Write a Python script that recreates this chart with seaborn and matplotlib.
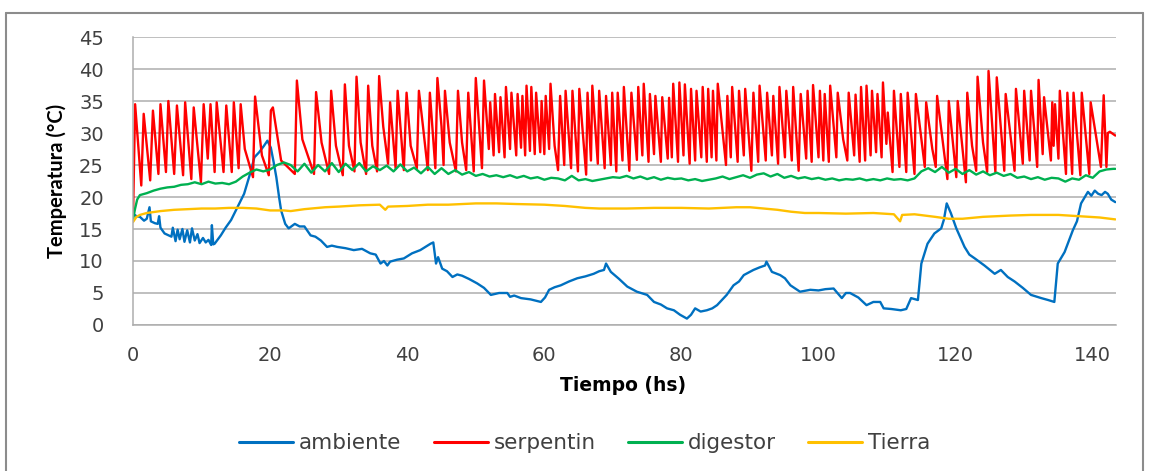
import pandas as pd
import seaborn as sns
import matplotlib.pyplot as plt
from matplotlib.lines import Line2D

# ambiente (blue)
amb_t = [0.0, 0.5, 1.0, 1.6, 2.0, 2.4, 2.6, 3.2, 3.6, 3.8,
         4.0, 4.6, 5.2, 5.6, 5.8, 6.2, 6.5, 6.8, 7.2, 7.5,
         7.9, 8.3, 8.6, 9.0, 9.4, 9.7, 10.2, 10.6, 11.0, 11.4,
         11.5, 11.7, 11.9, 12.8, 13.5, 14.3, 15.0, 16.2, 17.2, 17.7,
         18.4, 19.1, 19.6, 20.1, 20.5, 20.9, 21.3, 21.6, 22.2, 22.7,
         23.6, 24.3, 25.0, 25.9, 26.6, 27.4, 28.3, 29.0, 29.8, 31.0,
         32.2, 33.4, 34.6, 35.4, 36.1, 36.6, 37.1, 37.5, 38.5, 39.5,
         40.7, 41.9, 42.8, 43.4, 43.8, 44.2, 44.5, 45.1, 45.8, 46.6,
         47.3, 48.0, 49.0, 50.2, 51.2, 52.2, 53.4, 54.6, 55.0, 55.6,
         56.6, 58.0, 59.5, 60.1, 60.7, 61.5, 62.4, 63.6, 64.8, 66.0,
         67.2, 68.0, 68.7, 69.0, 69.7, 70.9, 72.1, 73.5, 75.0, 76.0,
         77.0, 77.9, 78.9, 79.8, 80.8, 81.4, 82.0, 82.8, 83.7, 84.5,
         85.2, 86.6, 87.6, 88.4, 89.1, 90.5, 91.4, 92.2, 92.4, 93.2,
         94.4, 95.1, 95.9, 97.3, 98.8, 100.0, 101.0, 102.2, 103.4, 104.0,
         104.6, 105.8, 107.0, 108.0, 109.0, 109.5, 110.6, 112.0, 112.8, 113.5,
         114.5, 115.0, 115.9, 116.9, 117.9, 118.3, 118.7, 119.3, 120.1, 121.3,
         122.0, 122.8, 124.2, 125.7, 126.6, 127.6, 128.6, 129.8, 131.0, 132.5,
         133.5, 134.4, 134.9, 135.9, 137.1, 137.7, 138.3, 139.3, 139.8, 140.3,
         140.8, 141.3, 141.8, 142.2, 142.7, 143.3]
amb_v = [17.4, 17.0, 16.9, 16.3, 16.6, 18.4, 16.2, 15.9, 15.8, 17.0,
         15.2, 14.3, 14.0, 13.8, 15.2, 13.1, 14.9, 13.4, 15.0, 13.0,
         14.8, 12.9, 15.1, 13.2, 14.2, 12.8, 13.6, 12.9, 13.3, 12.5,
         15.6, 12.6, 12.7, 14.0, 15.2, 16.4, 17.9, 20.5, 24.1, 26.2,
         27.0, 28.0, 28.8, 27.7, 25.5, 23.1, 20.0, 17.9, 15.8, 15.1,
         15.8, 15.4, 15.4, 14.0, 13.8, 13.2, 12.2, 12.4, 12.2, 12.0,
         11.7, 11.9, 11.2, 11.0, 9.6, 10.0, 9.3, 9.9, 10.2, 10.4,
         11.2, 11.7, 12.3, 12.7, 12.9, 9.6, 10.6, 8.8, 8.4, 7.5,
         7.9, 7.7, 7.2, 6.5, 5.8, 4.7, 5.0, 5.0, 4.4, 4.6,
         4.2, 4.0, 3.6, 4.3, 5.5, 5.9, 6.2, 6.8, 7.3, 7.6,
         8.0, 8.4, 8.6, 9.6, 8.3, 7.2, 6.0, 5.2, 4.7, 3.6,
         3.2, 2.6, 2.3, 1.6, 1.0, 1.6, 2.6, 2.1, 2.3, 2.6,
         3.1, 4.7, 6.2, 6.8, 7.8, 8.6, 9.0, 9.3, 9.9, 8.3,
         7.8, 7.3, 6.2, 5.2, 5.5, 5.4, 5.6, 5.7, 4.2, 5.0,
         5.0, 4.3, 3.1, 3.6, 3.6, 2.6, 2.5, 2.3, 2.5, 4.2,
         3.9, 9.6, 12.7, 14.3, 15.1, 16.5, 19.0, 17.5, 15.1, 12.2,
         11.0, 10.4, 9.3, 8.0, 8.6, 7.5, 6.8, 5.8, 4.7, 4.2,
         3.9, 3.6, 9.6, 11.4, 14.8, 16.2, 19.0, 20.8, 20.2, 21.0,
         20.5, 20.3, 20.8, 20.5, 19.6, 19.2]

# serpentin (red), peaks and troughs
serp_t = [0.0, 0.3, 1.2, 1.55, 2.5, 2.9, 3.7, 4.0, 4.8, 5.15,
          6.0, 6.4, 7.3, 7.6, 8.5, 8.85, 9.9, 10.3, 10.9, 11.3,
          11.9, 12.2, 13.2, 13.6, 14.4, 14.7, 15.4, 15.7, 16.3, 17.5, 17.8,
          18.8, 19.8, 20.1, 20.4, 21.6, 23.6, 23.9, 24.7, 26.4, 26.7,
          27.5, 28.6, 28.9, 29.6, 30.6, 30.9, 31.5, 32.3, 32.6, 33.2,
          34.0, 34.3, 34.9, 35.6, 35.9,
          36.5, 37.2, 37.5, 38.3, 38.6, 39.5, 39.9, 40.5, 41.4, 41.7,
          42.3, 43.0, 43.3, 44.1, 44.4, 45.0, 45.3, 45.5, 46.2, 47.1,
          47.4, 48.0, 48.6, 48.9, 49.7, 50.0, 50.9, 51.2, 51.9, 52.1,
          52.6, 52.8, 53.4, 53.6, 54.2, 54.4, 55.0, 55.2, 55.9, 56.1,
          56.6, 56.8, 57.2, 57.4, 57.9, 58.1, 58.6, 58.8, 59.4, 59.6,
          60.0, 60.2, 60.7, 60.9, 61.5, 62.0, 62.3, 62.9, 63.1, 63.9,
          64.1, 64.9, 65.1, 66.1, 66.3, 66.8, 67.0, 67.8, 68.0, 68.8,
          69.0, 69.7, 69.9, 70.5, 70.7, 71.4, 71.6,
          72.4, 72.7, 73.5, 73.7, 74.3, 74.5, 75.2, 75.4, 76.0, 76.2,
          77.0, 77.2, 78.0, 78.2, 78.6, 78.8, 79.5, 79.7, 80.3, 80.5,
          81.2, 81.4, 82.0, 82.2, 82.9, 83.1, 83.7, 83.9, 84.4, 84.6,
          85.1, 85.3, 86.5, 86.7, 87.2, 87.4, 88.2, 88.4, 89.1, 89.3,
          90.2, 90.5, 91.2, 91.4, 92.3, 92.5, 93.2, 93.4, 94.1, 94.3,
          95.1, 95.3, 96.1, 96.3, 97.1, 97.4, 98.2, 98.4, 99.0, 99.2,
          100.0, 100.2, 100.7, 100.9, 101.5, 101.7, 102.6, 102.8, 103.6, 104.2,
          104.4, 105.2, 105.4, 106.0, 106.2, 106.8, 107.0, 107.6, 107.8, 108.4,
          108.6,
          109.2, 109.4, 109.9, 110.1, 110.8, 111.0, 111.8, 112.0, 112.8, 113.0,
          114.0, 114.2, 115.5, 115.7, 116.6, 117.1, 117.3, 118.8, 119.0, 120.1,
          120.3, 121.5, 121.7, 122.4, 123.0, 123.2, 124.0, 124.6, 124.8, 125.8,
          126.0, 127.1, 127.3, 128.6, 128.8, 129.8, 130.0, 130.8, 131.0, 131.9,
          132.1, 132.7, 132.9, 133.9, 134.1, 134.3, 134.5, 135.0, 135.2, 136.1,
          136.3, 137.0, 137.2, 138.2, 138.4, 139.5, 139.7, 141.2, 141.6, 142.0,
          142.2, 142.5, 143.3]
serp_v = [17.0, 34.5, 21.8, 33.0, 22.6, 33.5, 23.6, 34.5, 23.9, 35.0,
          23.6, 34.3, 23.4, 34.8, 22.8, 34.0, 22.3, 34.5, 26.0, 34.5,
          23.9, 34.8, 23.9, 34.3, 23.9, 34.8, 24.5, 34.5, 27.5, 23.1, 35.7,
          26.5, 23.4, 33.5, 34.0, 25.7, 23.6, 38.2, 29.0, 23.6, 36.4,
          28.5, 23.6, 36.6, 28.0, 23.4, 37.6, 28.0, 24.0, 38.8, 28.5,
          23.6, 37.4, 28.0, 24.0, 38.9,
          31.0, 25.2, 34.8, 24.5, 36.6, 24.2, 36.3, 28.0, 24.5, 36.6,
          31.0, 24.2, 36.3, 24.5, 38.6, 31.0, 25.0, 36.6, 28.5, 24.0,
          36.6, 28.5, 24.2, 36.3, 24.0, 38.6, 24.5, 38.2, 27.5, 34.8,
          26.5, 36.1, 27.0, 35.6, 26.2, 37.2, 27.5, 36.3, 26.5, 36.1,
          27.7, 35.8, 26.5, 37.4, 27.2, 37.2, 26.7, 36.3, 27.0, 35.0,
          26.7, 35.8, 27.5, 37.7, 28.0, 24.2, 35.8, 25.0, 36.6, 24.5,
          36.6, 24.0, 36.9, 23.5, 36.3, 25.7, 37.4, 25.2, 36.6, 24.5,
          35.8, 25.0, 36.3, 24.0, 36.3, 25.7, 37.2,
          24.1, 36.3, 25.8, 37.2, 26.5, 37.7, 25.5, 36.1, 26.7, 35.8,
          25.5, 35.6, 26.0, 35.5, 26.2, 37.7, 25.5, 37.9, 26.5, 37.6,
          25.2, 36.9, 25.7, 36.6, 26.2, 37.2, 25.5, 36.9, 26.2, 36.6,
          25.7, 37.7, 25.0, 35.8, 26.2, 37.2, 25.5, 36.6, 26.5, 36.9,
          24.1, 36.3, 25.5, 37.4, 25.7, 36.3, 26.5, 35.8, 25.2, 37.2,
          26.2, 36.6, 25.7, 37.2, 24.1, 36.1, 26.0, 36.6, 25.5, 37.5,
          26.2, 36.6, 25.7, 36.1, 25.5, 37.4, 26.2, 36.3, 29.0, 25.7,
          36.3, 26.5, 36.0, 25.5, 37.2, 25.7, 37.4, 26.5, 36.6, 27.0,
          36.1,
          26.2, 37.9, 28.3, 33.2, 23.9, 36.6, 24.7, 36.1, 23.9, 36.3,
          23.6, 36.1, 24.7, 34.8, 27.5, 24.7, 35.8, 22.8, 35.0, 23.1,
          35.0, 22.3, 36.3, 28.0, 24.1, 38.8, 28.5, 23.9, 39.7, 23.9,
          38.7, 24.1, 36.1, 24.1, 36.9, 25.2, 36.6, 25.7, 36.6, 24.7,
          38.3, 26.7, 35.6, 25.7, 34.8, 28.0, 34.5, 26.0, 36.6, 23.6,
          36.3, 23.6, 36.3, 23.4, 36.3, 23.6, 34.8, 24.7, 35.9, 24.7,
          30.0, 30.2, 29.6]

# digestor (green), roughly hourly
dig_t = [0, 0.3, 0.6] + list(range(1, 144)) + [143.3]
dig_v = [16.5, 18.2, 19.6,
         20.3, 20.6, 21.0, 21.3, 21.5, 21.6, 21.9, 22.0, 22.3, 22.0,
         22.4, 22.1, 22.2, 22.0, 22.4, 23.2, 23.8, 24.3, 24.0, 24.3,
         25.0, 25.4, 25.0, 24.0, 25.2, 23.8, 25.0, 24.0, 25.3, 23.9,
         25.2, 24.2, 25.3, 24.0, 24.8, 24.2, 24.9, 24.0, 25.1, 24.0,
         24.6, 23.7, 24.7, 23.6, 24.5, 23.6, 24.2, 23.5, 23.9, 23.3,
         23.6, 23.2, 23.4, 23.1, 23.4, 23.0, 23.3, 22.9, 23.1, 22.7,
         23.0, 22.9, 22.6, 23.3, 22.6, 22.8, 22.5, 22.7, 22.9, 23.1,
         23.0, 23.3, 22.9, 23.2, 22.8, 23.1, 22.7, 23.0, 22.8, 22.9,
         22.6, 22.8, 22.5, 22.7, 22.9, 23.2, 22.8, 23.1, 23.4, 23.0,
         23.5, 23.7, 23.2, 23.6, 23.0, 23.3, 22.9, 23.1, 22.8, 23.0,
         22.7, 22.9, 22.6, 22.8, 22.7, 22.9, 22.6, 22.8, 22.6, 22.9,
         22.7, 22.8, 22.6, 22.9, 24.0, 24.5, 23.9, 24.7, 23.8, 24.4,
         23.6, 24.2, 23.5, 24.0, 23.4, 23.8, 23.3, 23.6, 23.0, 23.2,
         22.8, 23.1, 22.7, 23.0, 22.9, 22.4, 22.9, 22.7, 23.4, 23.0,
         24.0, 24.3, 24.4, 24.4]

# Tierra (yellow)
tie_t = [0, 0.5, 1, 2, 4, 6, 8, 10, 12, 14,
         16, 18, 20, 22, 23, 25, 28, 30, 33, 36,
         36.8, 37.2, 40, 43, 46, 50, 53, 56, 60, 63,
         66, 68, 72, 76, 80, 84, 88, 90, 92, 94,
         96, 98, 100, 104, 108, 111, 111.9, 112.2, 114, 117,
         119, 121, 124, 128, 131, 135, 138, 141, 143.3]
tie_v = [16.1, 16.9, 17.2, 17.5, 17.8, 18.0, 18.1, 18.2, 18.2, 18.3,
         18.3, 18.2, 17.9, 17.9, 17.8, 18.1, 18.4, 18.5, 18.7, 18.8,
         18.0, 18.5, 18.6, 18.8, 18.8, 19.0, 19.0, 18.9, 18.8, 18.6,
         18.3, 18.2, 18.2, 18.3, 18.3, 18.2, 18.4, 18.4, 18.2, 18.0,
         17.7, 17.5, 17.5, 17.4, 17.5, 17.3, 16.2, 17.2, 17.3, 16.9,
         16.6, 16.6, 16.9, 17.1, 17.2, 17.2, 17.0, 16.8, 16.5]

series = ["ambiente", "serpentin", "digestor", "Tierra"]
colors = ["#0070C0", "#FF0000", "#00B050", "#FFC000"]

frames = []
for name, t, v in zip(series, [amb_t, serp_t, dig_t, tie_t], [amb_v, serp_v, dig_v, tie_v]):
    frames.append(pd.DataFrame({"tiempo": t, "temp": v, "serie": name}))
df = pd.concat(frames, ignore_index=True)

sns.set_style("white")
plt.rcParams["font.family"] = ["DejaVu Sans"]

fig = plt.figure(figsize=(11.49, 4.71), dpi=100)
ax = fig.add_axes([0.1158, 0.3100, 0.8555, 0.6114])

sns.lineplot(data=df, x="tiempo", y="temp", hue="serie", hue_order=series,
             palette=colors, estimator=None, sort=False, linewidth=1.7, ax=ax, legend=False)

ax.set_xlim(0, 143.4)
ax.set_ylim(0, 45)
ax.set_xticks(range(0, 141, 20))
ax.set_yticks(range(0, 46, 5))
ax.tick_params(axis="both", length=0, labelsize=14, labelcolor="#404040")
ax.tick_params(axis="x", pad=15)
ax.tick_params(axis="y", pad=21)
ax.yaxis.grid(True, color="#ADADAD", linewidth=1.1)
ax.set_axisbelow(True)
for side in ["top", "right"]:
    ax.spines[side].set_visible(False)
for side in ["left", "bottom"]:
    ax.spines[side].set_color("#ADADAD")
    ax.spines[side].set_linewidth(1.1)

# the reference text is wide horizontally but narrow when rotated
ax.set_xlabel("Tiempo (hs)", fontsize=13.5, fontweight="bold", color="black")
ax.set_ylabel("Temperatura (°C)", fontsize=14.5, fontweight="bold", color="black",
              family=["Lato", "DejaVu Sans"])
ax.xaxis.set_label_coords(0.4985, -0.177)
ax.yaxis.set_label_coords(-0.067, 0.5)

handles = [Line2D([], [], color=c, linewidth=2.2) for c in colors]
fig.legend(handles, series, ncol=4, loc="center", bbox_to_anchor=(0.509, 0.059),
           frameon=False, fontsize=15.5, handlelength=2.5, handletextpad=0.28,
           columnspacing=1.5, labelcolor="#404040")

# outer chart border
border = dict(color="#8C8C8C", linewidth=1.5, transform=fig.transFigure)
fig.add_artist(Line2D([6 / 1149, 6 / 1149], [0, 1 - 13 / 471], **border))
fig.add_artist(Line2D([6 / 1149, 1143 / 1149], [1 - 13 / 471, 1 - 13 / 471], **border))
fig.add_artist(Line2D([1143 / 1149, 1143 / 1149], [0, 1 - 13 / 471], **border))

fig.savefig("out.png", dpi=100)
